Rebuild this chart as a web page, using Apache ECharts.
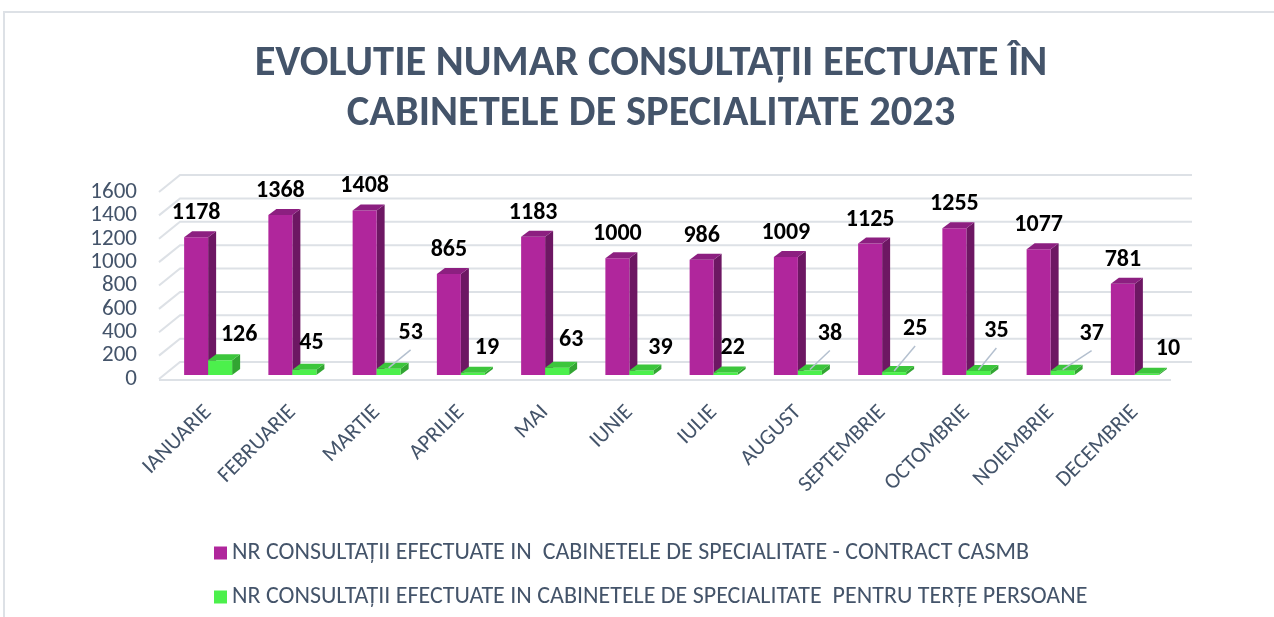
<!DOCTYPE html>
<html>
<head>
<meta charset="utf-8">
<script src="https://cdn.jsdelivr.net/npm/echarts@6/dist/echarts.min.js"></script>
</head>
<body style="margin:0;background:#fff">
<div id="chart" style="width:1274px;height:617px"></div>
<script>
var months = ['IANUARIE', 'FEBRUARIE', 'MARTIE', 'APRILIE', 'MAI', 'IUNIE', 'IULIE', 'AUGUST', 'SEPTEMBRIE', 'OCTOMBRIE', 'NOIEMBRIE', 'DECEMBRIE'];
var contractCasmb = [1178, 1368, 1408, 865, 1183, 1000, 986, 1009, 1125, 1255, 1077, 781];
var tertePersoane = [126, 45, 53, 19, 63, 39, 22, 38, 25, 35, 37, 10];
var yTicks = [0, 200, 400, 600, 800, 1000, 1200, 1400, 1600];

var nameCasmb = 'NR CONSULTAȚII EFECTUATE IN  CABINETELE DE SPECIALITATE - CONTRACT CASMB';
var nameTerte = 'NR CONSULTAȚII EFECTUATE IN CABINETELE DE SPECIALITATE  PENTRU TERȚE PERSOANE';

// where Excel moved the small green labels (dx, dy from top of bar), and which got a leader line
var greenNudge = [[19, -25], [7, -27], [22, -36], [14, -25], [14, -28], [19, -22], [7, -24], [20, -37], [21, -43], [18, -40], [29, -37], [21, -25]];
var greenLeader = [false, false, true, false, false, false, false, true, true, true, true, false];

var FONT = 'Carlito, Calibri, "Open Sans", sans-serif';
var TXT = '#44546A';
var BW = 24, DX = 8, DY = -6, SHIFT = -4;

function bar3d(side, colors, labelFn) {
    return function (params, api) {
        var i = api.value(0), v = api.value(1);
        var c = api.coord([i, v]);
        var b = api.coord([i, 0]);
        var x0 = side < 0 ? c[0] - BW : c[0];
        var x1 = x0 + BW;
        var yt = c[1] + SHIFT, yb = b[1] + SHIFT;
        var kids = [
            { type: 'polygon', shape: { points: [[x1, yb], [x1, yt], [x1 + DX, yt + DY], [x1 + DX, yb + DY]] }, style: { fill: colors[1] } },
            { type: 'rect', shape: { x: x0, y: yt, width: BW, height: yb - yt }, style: { fill: colors[0] } },
            { type: 'polygon', shape: { points: [[x0, yt], [x1, yt], [x1 + DX, yt + DY], [x0 + DX, yt + DY]] }, style: { fill: colors[2] } }
        ];
        labelFn(kids, params.dataIndex, (x0 + x1) / 2, yt, v);
        return { type: 'group', children: kids };
    };
}

function labelText(x, y, s) {
    return { type: 'text', style: { x: x, y: y, text: String(s), fill: '#000', font: 'bold 24px ' + FONT, align: 'center', verticalAlign: 'middle' }, z2: 10 };
}

var legendText = { color: TXT, fontFamily: FONT, fontSize: 24 };

var chart = echarts.init(document.getElementById('chart'));
chart.setOption({
    backgroundColor: '#fff',
    animation: false,
    title: {
        text: 'EVOLUTIE NUMAR CONSULTAȚII EECTUATE ÎN\nCABINETELE DE SPECIALITATE 2023',
        left: 646, top: 34, textAlign: 'center',
        textStyle: { color: TXT, fontFamily: FONT, fontWeight: 'bold', fontSize: 42.5, lineHeight: 50 }
    },
    graphic: [{ type: 'rect', shape: { x: 4, y: 12, width: 1300, height: 640 }, style: { fill: 'none', stroke: '#dde1e6', lineWidth: 2 }, silent: true }],
    legend: [
        { left: 209, top: 536, itemWidth: 13, itemHeight: 13, icon: 'rect', data: [nameCasmb], textStyle: legendText },
        { left: 209, top: 580, itemWidth: 13, itemHeight: 13, icon: 'rect', data: [nameTerte], textStyle: legendText }
    ],
    grid: { left: 166, right: 97, top: 192, bottom: 238 },
    xAxis: {
        type: 'category', data: months,
        axisLine: { show: false }, axisTick: { show: false },
        axisLabel: { rotate: 45, margin: 30, interval: 0, color: TXT, fontFamily: FONT, fontSize: 22 }
    },
    yAxis: {
        type: 'value', min: 0, max: 1600, interval: 200,
        axisLine: { show: false }, axisTick: { show: false }, splitLine: { show: false },
        axisLabel: {
            margin: 29, color: TXT, fontFamily: FONT, fontSize: 23,
            showMinLabel: true, showMaxLabel: true, hideOverlap: false,
            formatter: function (v) { return String(v); }
        }
    },
    series: [
        {
            type: 'custom', name: 'grid', silent: true, z: 1,
            data: yTicks.map(function (t) { return [0, t]; }),
            renderItem: function (params, api) {
                var cs = params.coordSys;
                var y = api.coord([0, api.value(1)])[1];
                var xf = cs.x - 7, xb = xf + 21, xe = cs.x + cs.width + 15;
                var kids = [{ type: 'polyline', shape: { points: [[xf, y], [xb, y - 17], [xe, y - 17]] }, style: { stroke: '#dde1e6', lineWidth: 2, fill: 'none' } }];
                if (api.value(1) === 0) {
                    kids.push({ type: 'line', shape: { x1: xf, y1: y + 1, x2: xe - 21, y2: y + 1 }, style: { stroke: '#dde1e6', lineWidth: 2 } });
                }
                return { type: 'group', children: kids };
            }
        },
        {
            type: 'custom', name: nameCasmb, z: 2,
            itemStyle: { color: '#B0269C' },
            data: contractCasmb.map(function (v, i) { return [i, v]; }),
            renderItem: bar3d(-1, ['#B0269C', '#6D1763', '#8C1F80'], function (kids, idx, cx, yt, v) {
                kids.push(labelText(cx, yt - 24, v));
            })
        },
        {
            type: 'custom', name: nameTerte, z: 3,
            itemStyle: { color: '#4CF04C' },
            data: tertePersoane.map(function (v, i) { return [i, v]; }),
            renderItem: bar3d(1, ['#4CF04C', '#32A532', '#3CC63C'], function (kids, idx, cx, yt, v) {
                var n = greenNudge[idx];
                if (greenLeader[idx]) {
                    kids.push({ type: 'line', shape: { x1: cx, y1: yt - 1, x2: cx + n[0], y2: yt + n[1] + 17 }, style: { stroke: '#b4c0cf', lineWidth: 1.5 }, z2: 9 });
                }
                kids.push(labelText(cx + n[0], yt + n[1], v));
            })
        }
    ]
});
</script>
</body>
</html>
